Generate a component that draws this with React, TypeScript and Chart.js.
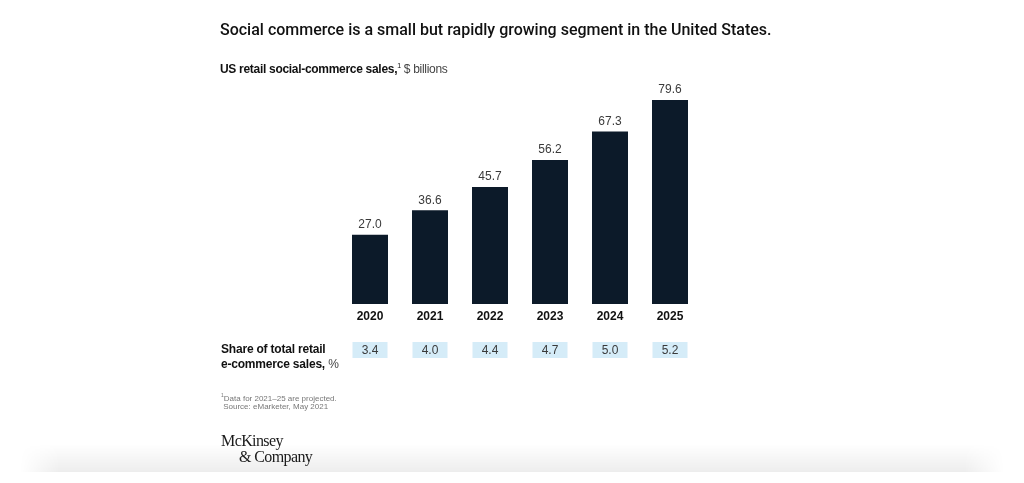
import React, { useEffect, useRef } from "react";
import { Chart, registerables } from "chart.js";

Chart.register(...registerables);

const years = ["2020", "2021", "2022", "2023", "2024", "2025"];
const salesBillions = [27.0, 36.6, 45.7, 56.2, 67.3, 79.6];
const sharePercent = [3.4, 4.0, 4.4, 4.7, 5.0, 5.2];

const FONT = "Roboto, 'Liberation Sans', Arial, sans-serif";
const LFONT = "'Liberation Sans', Arial, sans-serif";
const BAR_COLOR = "#0c1a29";

const valueLabels = {
  id: "valueLabels",
  afterDatasetsDraw(chart: any) {
    const ctx = chart.ctx;
    const meta = chart.getDatasetMeta(0);
    ctx.save();
    ctx.font = `400 12px ${LFONT}`;
    ctx.fillStyle = "#3a3a3a";
    ctx.textAlign = "center";
    ctx.textBaseline = "bottom";
    meta.data.forEach((el: any, i: number) => {
      ctx.fillText(salesBillions[i].toFixed(1), el.x, el.y - 4);
    });
    ctx.restore();
  },
};

const shareBoxes = {
  id: "shareBoxes",
  afterDraw(chart: any) {
    const ctx = chart.ctx;
    const xs = chart.scales.x;
    ctx.save();
    ctx.font = `400 12px ${LFONT}`;
    ctx.textAlign = "center";
    ctx.textBaseline = "middle";
    sharePercent.forEach((v, i) => {
      const cx = xs.getPixelForValue(i);
      ctx.fillStyle = "#d5ecf8";
      ctx.fillRect(cx - 17.5, 342, 35, 16);
      ctx.fillStyle = "#3a3a3a";
      ctx.fillText(v.toFixed(1), cx, 350.5);
    });
    ctx.restore();
  },
};

function BarChart() {
  const ref = useRef<HTMLCanvasElement | null>(null);
  useEffect(() => {
    if (!ref.current) return;
    const chart = new Chart(ref.current, {
      type: "bar",
      data: {
        labels: years,
        datasets: [
          {
            data: salesBillions,
            backgroundColor: BAR_COLOR,
            borderWidth: 0,
            barPercentage: 0.6,
            categoryPercentage: 1,
          },
        ],
      },
      options: {
        responsive: false,
        animation: false,
        layout: { padding: { left: 340, right: 324, top: 73.35, bottom: 149 } },
        plugins: { legend: { display: false }, tooltip: { enabled: false }, title: { display: false } },
        scales: {
          x: {
            grid: { display: false, drawTicks: false },
            border: { display: false },
            ticks: { color: "#111", font: { family: LFONT, size: 12, weight: "bold" }, padding: 5 },
            afterFit(scale: any) {
              scale.height = 30;
            },
          },
          y: { display: false, min: 0, max: 90 },
        },
      },
      plugins: [valueLabels, shareBoxes],
    });
    return () => chart.destroy();
  }, []);
  return <canvas ref={ref} width={1024} height={483} style={{ position: "absolute", left: 0, top: 0 }} />;
}

export default function App() {
  const base: React.CSSProperties = { position: "absolute", fontFamily: FONT, whiteSpace: "nowrap", margin: 0 };
  return (
    <div style={{ position: "fixed", left: 0, top: 0, width: 1024, height: 483, background: "#fff", overflow: "hidden" }}>
      <div
        style={{
          position: "absolute",
          left: 20,
          right: 20,
          top: 444,
          height: 28,
          background: "linear-gradient(to bottom, rgba(0,0,0,0), rgba(0,0,0,0.07))",
          WebkitMaskImage: "linear-gradient(to right, transparent, black 4%, black 96%, transparent)",
        }}
      />
      <BarChart />
      <div style={{ ...base, left: 220, top: 19, fontSize: 16, fontWeight: 500, color: "#111", lineHeight: "22px" }}>
        Social commerce is a small but rapidly growing segment in the United States.
      </div>
      <div style={{ ...base, left: 220, top: 58, fontSize: 12, fontWeight: 700, color: "#111", lineHeight: "16px", fontFamily: LFONT, letterSpacing: -0.3 }}>
        US retail social-commerce sales,<sup style={{ fontSize: 7, fontWeight: 400 }}>1</sup>
        <span style={{ fontWeight: 400, color: "#444" }}> $ billions</span>
      </div>
      <div style={{ ...base, left: 221, top: 342, fontSize: 12, fontWeight: 700, color: "#111", lineHeight: "14.5px", fontFamily: LFONT, letterSpacing: -0.2 }}>
        Share of total retail
        <br />
        e-commerce sales, <span style={{ fontWeight: 400, color: "#444" }}>%</span>
      </div>
      <div style={{ ...base, left: 221, top: 395, fontSize: 8, color: "#777", lineHeight: "8px", fontFamily: LFONT }}>
        <sup style={{ fontSize: 5, lineHeight: 0 }}>1</sup>Data for 2021–25 are projected.
        <br />
        &nbsp;Source: eMarketer, May 2021
      </div>
      <div style={{ ...base, left: 221, top: 433, fontSize: 16, color: "#1a1a1a", lineHeight: "16px", fontFamily: "'Liberation Serif', 'DejaVu Serif', serif", letterSpacing: -0.6 }}>
        McKinsey
        <br />
        <span style={{ marginLeft: 18 }}>&amp; Company</span>
      </div>
    </div>
  );
}
